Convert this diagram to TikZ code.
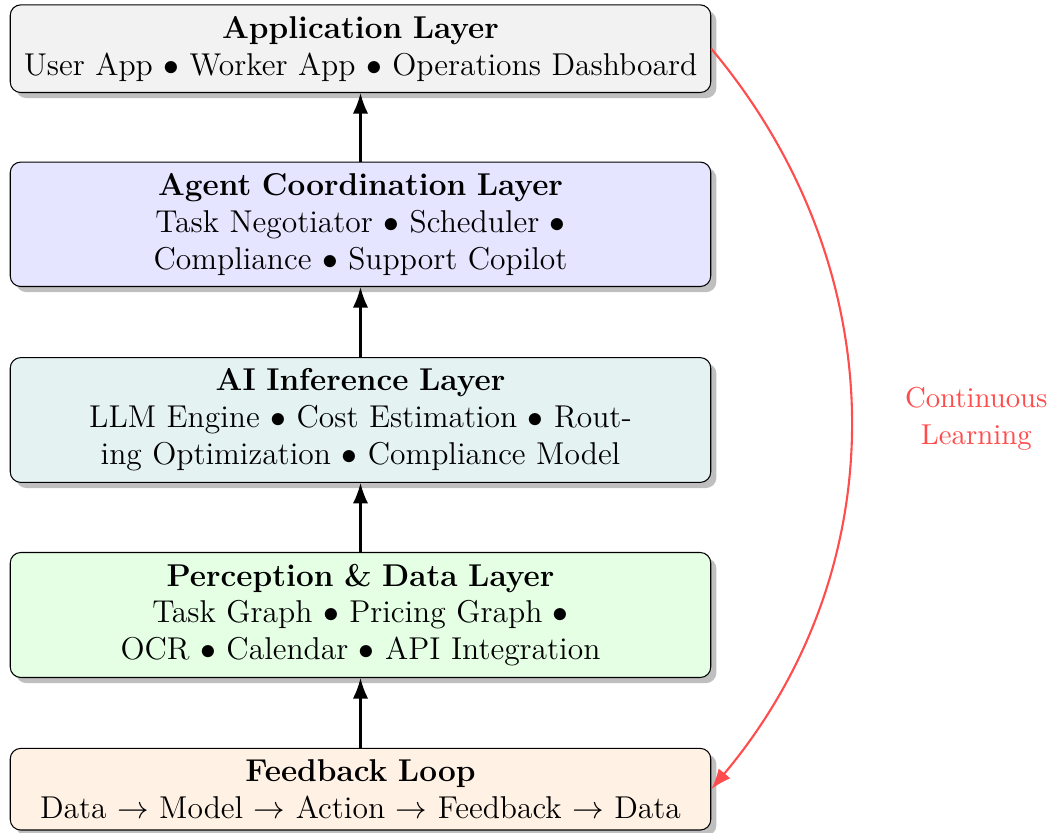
\documentclass[tikz,border=0pt]{standalone}
\usetikzlibrary{shadows,arrows.meta,positioning}
\begin{document}
\begin{tikzpicture}[x=0.3803pt,y=-0.3803pt]
\tikzset{
  layer/.style={draw, rounded corners=4pt, text width=258pt, align=center,
    inner xsep=4.2pt, inner ysep=4.3pt, font=\large, drop shadow},
  flow/.style={thick, -{Latex[length=7.8pt,width=5.8pt]}},
  loop/.style={thick, red!70, -{Latex[length=7.8pt,width=5.8pt]}},
  looplabel/.style={text width=2cm, align=center, text=red!70,
    font=\fontsize{10.95}{14.3}\selectfont},
}
\useasboundingbox (0,0) rectangle (1050,833);

\node[layer, fill=gray!10] (app) at (360.5,48.7)
  {\textbf{Application Layer}\\User App $\bullet$ Worker App $\bullet$ Operations Dashboard};
\node[layer, fill=blue!10] (agent) at (360.5,224.3)
  {\textbf{Agent Coordination Layer}\\Task Negotiator $\bullet$ Scheduler $\bullet$ Compliance $\bullet$ Support Copilot};
\node[layer, fill=teal!10] (ai) at (360.5,420)
  {\textbf{AI Inference Layer}\\LLM Engine $\bullet$ Cost Estimation $\bullet$ Routing Optimization $\bullet$ Compliance Model};
\node[layer, fill=green!10] (data) at (360.5,615)
  {\textbf{Perception \& Data Layer}\\Task Graph $\bullet$ Pricing Graph $\bullet$ OCR $\bullet$ Calendar $\bullet$ API Integration};
\node[layer, fill=orange!10] (fb) at (360.5,789.2)
  {\textbf{Feedback Loop}\\Data $\rightarrow$ Model $\rightarrow$ Action $\rightarrow$ Feedback $\rightarrow$ Data};

\draw[flow] (fb) -- (data);
\draw[flow] (data) -- (ai);
\draw[flow] (ai) -- (agent);
\draw[flow] (agent) -- (app);

\draw[loop] (app.east) to[bend left=40]
  node[right=0.55cm, looplabel] {Continuous Learning}
  (fb.east);
\end{tikzpicture}
\end{document}
